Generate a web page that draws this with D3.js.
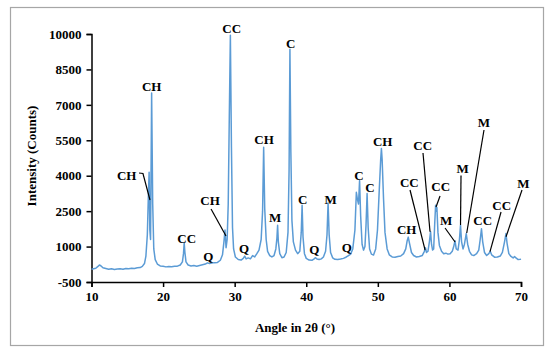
<!DOCTYPE html>
<html>
<head>
<meta charset="utf-8">
<script src="https://cdn.jsdelivr.net/npm/d3@7"></script>
<style>
  body { margin: 0; background: #fff; }
  text { font-family: "Liberation Serif", "Times New Roman", serif; font-weight: bold; fill: #000; }
</style>
</head>
<body>
<svg id="chart" width="550" height="354"></svg>
<script>
// XRD pattern
var angle = [
  10.0, 10.3, 10.6, 10.9, 11.1, 11.3, 11.6, 12.0, 12.4, 12.8, 13.2, 13.6, 14.0, 14.4, 14.8, 15.2, 15.6, 16.0, 16.4, 16.8,
  17.1, 17.4, 17.6, 17.8, 17.95, 18.05, 18.15, 18.25, 18.4, 18.55, 18.7, 18.9, 19.2, 19.6, 20.0, 20.4, 20.8, 21.2, 21.6, 22.0,
  22.4, 22.7, 22.85, 22.95, 23.05, 23.2, 23.5, 23.9, 24.3, 24.7, 25.1, 25.5, 25.9, 26.2, 26.5, 26.8, 27.2, 27.6, 28.0, 28.3,
  28.5, 28.65, 28.8, 28.95, 29.1, 29.25, 29.4, 29.55, 29.7, 29.85, 30.1, 30.5, 30.9, 31.2, 31.4, 31.6, 31.9, 32.2, 32.5, 32.8,
  33.1, 33.4, 33.7, 33.9, 34.05, 34.2, 34.4, 34.6, 34.9, 35.2, 35.5, 35.75, 35.9, 36.0, 36.1, 36.3, 36.6, 36.9, 37.2, 37.45,
  37.6, 37.72, 37.85, 38.0, 38.2, 38.5, 38.8, 39.1, 39.3, 39.42, 39.55, 39.75, 40.0, 40.4, 40.8, 41.1, 41.3, 41.5, 41.8, 42.1,
  42.4, 42.7, 42.9, 43.05, 43.2, 43.4, 43.7, 44.0, 44.4, 44.8, 45.2, 45.6, 45.9, 46.2, 46.5, 46.8, 47.0, 47.15, 47.3, 47.45,
  47.6, 47.8, 48.0, 48.2, 48.35, 48.5, 48.65, 48.85, 49.1, 49.4, 49.7, 49.95, 50.2, 50.4, 50.5, 50.6, 50.8, 51.0, 51.3, 51.6,
  52.0, 52.4, 52.8, 53.2, 53.6, 53.9, 54.1, 54.25, 54.45, 54.7, 55.0, 55.4, 55.8, 56.2, 56.5, 56.65, 56.8, 57.0, 57.2, 57.37,
  57.5, 57.65, 57.8, 57.95, 58.07, 58.15, 58.25, 58.4, 58.6, 58.9, 59.2, 59.5, 59.8, 60.1, 60.4, 60.6, 60.78, 60.95, 61.2, 61.4,
  61.55, 61.7, 61.9, 62.1, 62.35, 62.55, 62.8, 63.1, 63.4, 63.8, 64.1, 64.3, 64.48, 64.65, 64.9, 65.2, 65.5, 65.7, 65.9, 66.3,
  66.7, 67.1, 67.4, 67.7, 67.9, 68.05, 68.3, 68.6, 68.9, 69.1, 69.3, 69.6, 69.9, 70.0
];
var counts = [
  40, 60, 80, 160, 220, 190, 100, 70, 40, 60, 30, 50, 60, 40, 70, 60, 80, 70, 100, 110,
  160, 280, 600, 1500, 3200, 4150, 1700, 1300, 7500, 2800, 900, 450, 260, 180, 170, 140, 160, 150, 170, 170,
  220, 350, 700, 1150, 750, 350, 220, 180, 200, 170, 200, 230, 260, 310, 280, 300, 320, 330, 420, 650,
  1200, 1700, 950, 1300, 2800, 6500, 9950, 5200, 1800, 900, 560, 450, 430, 500, 600, 480, 520, 480, 620, 560,
  700, 850, 1300, 2500, 5200, 2600, 1300, 800, 620, 560, 620, 900, 1350, 1900, 1200, 700, 530, 560, 750, 1600,
  4200, 9350, 5000, 2100, 1200, 850, 700, 800, 1600, 2750, 1400, 700, 500, 430, 420, 480, 530, 470, 450, 480,
  560, 800, 1500, 2850, 1500, 750, 520, 460, 450, 470, 500, 560, 620, 680, 900, 1700, 3300, 3000, 2800, 3800,
  2300, 1100, 850, 1000, 1900, 3250, 1800, 900, 680, 640, 900, 1700, 3400, 4700, 5150, 4700, 3000, 1600, 900, 650,
  560, 550, 580, 600, 700, 900, 1250, 1400, 1100, 750, 620, 560, 580, 620, 800, 950, 750, 800, 1200, 1630,
  1100, 850, 900, 2000, 2750, 2500, 2650, 1600, 1050, 800, 700, 720, 680, 700, 800, 1000, 1250, 900, 850, 1300,
  1900, 1200, 900, 1100, 1550, 1100, 800, 650, 620, 700, 850, 1300, 1750, 1200, 750, 620, 700, 800, 650, 550,
  560, 600, 750, 1200, 1550, 1150, 700, 580, 520, 580, 520, 450, 460, 470
];

var yTicks = [-500, 1000, 2500, 4000, 5500, 7000, 8500, 10000];
var xTicks = [10, 20, 30, 40, 50, 60, 70];

// phase labels: text, angle, count, optional leader line
var labels = [
  { t: "CH", a: 18.41, c: 7770 },
  { t: "CH", a: 14.92, c: 4030, lead: [[16.64, 4115], [17.19, 4094], [18.17, 2972]] },
  { t: "CC", a: 23.30, c: 1350 },
  { t: "Q", a: 26.32, c: 600 },
  { t: "CH", a: 26.56, c: 2942, lead: [[26.70, 2591], [28.79, 1448]] },
  { t: "CC", a: 29.59, c: 10242 },
  { t: "Q", a: 31.30, c: 927 },
  { t: "CH", a: 34.10, c: 5542 },
  { t: "M", a: 35.64, c: 2222 },
  { t: "C", a: 37.83, c: 9607 },
  { t: "C", a: 39.51, c: 3002 },
  { t: "Q", a: 41.13, c: 855 },
  { t: "M", a: 43.42, c: 3002 },
  { t: "Q", a: 45.65, c: 969 },
  { t: "C", a: 47.37, c: 4030 },
  { t: "C", a: 48.91, c: 3510 },
  { t: "CH", a: 50.68, c: 5440 },
  { t: "CC", a: 56.27, c: 5300, lead: [[56.31, 4962], [57.29, 1630]] },
  { t: "CC", a: 54.40, c: 3704, lead: [[54.50, 3395], [56.60, 855]] },
  { t: "CC", a: 58.78, c: 3535, lead: [[58.69, 3141], [58.13, 2676]] },
  { t: "CH", a: 54.03, c: 1702 },
  { t: "M", a: 59.53, c: 2125, lead: [[59.39, 1786], [60.79, 1194]] },
  { t: "M", a: 61.86, c: 4314, lead: [[61.62, 4009], [61.55, 1913]] },
  { t: "M", a: 64.83, c: 6245, lead: [[64.83, 5936], [62.42, 1575]] },
  { t: "CC", a: 64.65, c: 2095 },
  { t: "CC", a: 67.31, c: 2760, lead: [[67.21, 2464], [65.67, 783]] },
  { t: "M", a: 70.32, c: 3679, lead: [[70.14, 3395], [67.91, 1418]] }
];

var svg = d3.select("#chart");

// outer frame
svg.append("rect")
  .attr("x", 10.5).attr("y", 7.5)
  .attr("width", 533).attr("height", 338)
  .attr("fill", "none")
  .attr("stroke", "#a6a6a6")
  .attr("stroke-width", 1.2);

var x = d3.scaleLinear().domain([10, 70]).range([91.5, 521]);
var y = d3.scaleLinear().domain([-500, 10000]).range([282, 34]);

var plain = function (d) { return String(d); };

var xAxis = svg.append("g")
  .attr("transform", "translate(0,282)")
  .call(d3.axisBottom(x).tickValues(xTicks).tickFormat(plain).tickSize(5).tickPadding(5));
var yAxis = svg.append("g")
  .attr("transform", "translate(91.5,0)")
  .call(d3.axisLeft(y).tickValues(yTicks).tickFormat(plain).tickSize(5).tickPadding(5));

[xAxis, yAxis].forEach(function (g) {
  g.select(".domain").attr("stroke", "#000").attr("stroke-width", 1.5);
  g.selectAll(".tick line").attr("stroke", "#000").attr("stroke-width", 1.5);
  g.selectAll(".tick text")
    .attr("font-family", '"Liberation Serif", "Times New Roman", serif')
    .attr("font-weight", "bold")
    .attr("font-size", 13)
    .attr("fill", "#000");
});

// pattern line
var line = d3.line()
  .x(function (d, i) { return x(angle[i]); })
  .y(function (d) { return y(d); });

svg.append("path")
  .datum(counts)
  .attr("d", line)
  .attr("fill", "none")
  .attr("stroke", "#5b9bd5")
  .attr("stroke-width", 1.5)
  .attr("stroke-linejoin", "round");

// leaders
var lead = d3.line()
  .x(function (p) { return x(p[0]); })
  .y(function (p) { return y(p[1]); });

svg.selectAll("path.lead")
  .data(labels.filter(function (d) { return d.lead; }))
  .enter()
  .append("path")
  .attr("class", "lead")
  .attr("d", function (d) { return lead(d.lead); })
  .attr("fill", "none")
  .attr("stroke", "#000")
  .attr("stroke-width", 1.2);

svg.selectAll("text.lbl")
  .data(labels)
  .enter()
  .append("text")
  .attr("class", "lbl")
  .attr("x", function (d) { return x(d.a); })
  .attr("y", function (d) { return y(d.c); })
  .attr("text-anchor", "middle")
  .attr("dominant-baseline", "central")
  .attr("font-size", 13)
  .text(function (d) { return d.t; });

// axis titles
svg.append("text")
  .attr("x", 295).attr("y", 327)
  .attr("text-anchor", "middle")
  .attr("dominant-baseline", "central")
  .attr("font-size", 13)
  .text("Angle in 2θ (°)");

svg.append("text")
  .attr("transform", "translate(31,156) rotate(-90)")
  .attr("text-anchor", "middle")
  .attr("dominant-baseline", "central")
  .attr("font-size", 13)
  .text("Intensity (Counts)");
</script>
</body>
</html>
